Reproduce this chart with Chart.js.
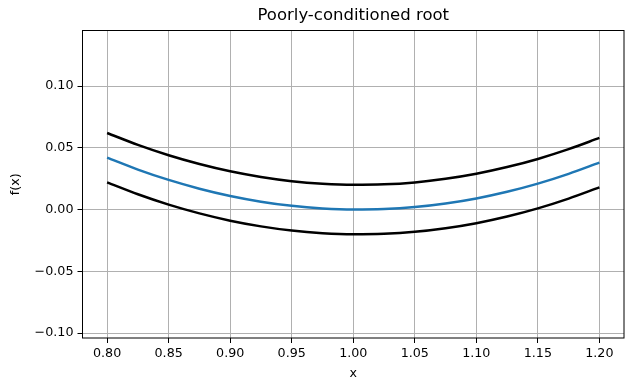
<!DOCTYPE html>
<html>
<head>
<meta charset="utf-8">
<script src="https://cdn.jsdelivr.net/npm/chart.js@4"></script>
<style>
  html, body { margin: 0; padding: 0; background: #fff; }
  canvas { display: block; }
</style>
</head>
<body>
<canvas id="chart" width="634" height="391"></canvas>
<script>
// values
const xVals     = [0.800, 0.825, 0.850, 0.875, 0.900, 0.925, 0.950, 0.975, 1.000,
                   1.025, 1.050, 1.075, 1.100, 1.125, 1.150, 1.175, 1.200];
const fMid      = [0.0420, 0.0324, 0.0240, 0.0169, 0.0110, 0.0064, 0.0030, 0.0009, 0.0000,
                   0.0004, 0.0020, 0.0049, 0.0090, 0.0144, 0.0210, 0.0289, 0.0380];
const fUpper    = [0.0620, 0.0524, 0.0440, 0.0369, 0.0310, 0.0264, 0.0230, 0.0209, 0.0200,
                   0.0204, 0.0220, 0.0249, 0.0290, 0.0344, 0.0410, 0.0489, 0.0580];
const fLower    = [0.0220, 0.0124, 0.0040, -0.0031, -0.0090, -0.0136, -0.0170, -0.0191, -0.0200,
                   -0.0196, -0.0180, -0.0151, -0.0110, -0.0056, 0.0010, 0.0089, 0.0180];
const xTicks    = [0.80, 0.85, 0.90, 0.95, 1.00, 1.05, 1.10, 1.15, 1.20];
const yTicks    = [-0.10, -0.05, 0.00, 0.05, 0.10];

const FONT = "'DejaVu Sans', sans-serif";

const pts = (ys) => xVals.map((x, i) => ({ x: x, y: ys[i] }));

const lineSet = (ys, color) => ({
  data: pts(ys),
  borderColor: color,
  borderWidth: 2.5,
  pointRadius: 0,
  cubicInterpolationMode: "monotone",
  fill: false
});

// black frame round the plot area (matplotlib spines)
const framePlugin = {
  id: "frame",
  afterDatasetsDraw(chart) {
    const a = chart.chartArea;
    const ctx = chart.ctx;
    ctx.save();
    ctx.strokeStyle = "#000";
    ctx.lineWidth = 1;
    ctx.strokeRect(a.left, a.top, a.right - a.left, a.bottom - a.top);
    ctx.restore();
  }
};

const fmt = (v) => v.toFixed(2).replace("-", "\u2212");

new Chart(document.getElementById("chart"), {
  type: "line",
  data: {
    datasets: [
      lineSet(fMid,   "#1f77b4"),
      lineSet(fUpper, "#000000"),
      lineSet(fLower, "#000000")
    ]
  },
  options: {
    responsive: false,
    animation: false,
    layout: { padding: { left: 0, right: 10, top: 0, bottom: 0 } },
    plugins: {
      legend: { display: false },
      tooltip: { enabled: false },
      title: {
        display: true,
        fullSize: false,
        text: "Poorly-conditioned root",
        color: "#000",
        font: { family: FONT, size: 16.5, weight: "normal", lineHeight: 1.2 },
        padding: { top: 6, bottom: 4.7 }
      }
    },
    scales: {
      x: {
        type: "linear",
        min: 0.78, max: 1.22,
        afterFit: (s) => { s.height = 53; },
        afterBuildTicks: (s) => { s.ticks = xTicks.map(v => ({ value: v })); },
        border: { display: false },
        grid: { color: "#b0b0b0", lineWidth: 1, tickColor: "#000", tickLength: 5 },
        ticks: { color: "#000", font: { family: FONT, size: 12.7 }, padding: 3,
                 maxRotation: 0, callback: fmt },
        title: { display: true, text: "x", color: "#000",
                 font: { family: FONT, size: 12.7 }, padding: { top: 10, bottom: 10 } }
      },
      y: {
        type: "linear",
        min: -0.104, max: 0.145,
        afterFit: (s) => { s.width = 82.5; },
        afterBuildTicks: (s) => { s.ticks = yTicks.map(v => ({ value: v })); },
        border: { display: false },
        grid: { color: "#b0b0b0", lineWidth: 1, tickColor: "#000", tickLength: 5 },
        ticks: { color: "#000", font: { family: FONT, size: 12.7 }, padding: 4, callback: fmt },
        title: { display: true, text: "f(x)", color: "#000",
                 font: { family: FONT, size: 12.7 }, padding: { top: 8.5, bottom: 8.5 } }
      }
    }
  },
  plugins: [framePlugin]
});
</script>
</body>
</html>
